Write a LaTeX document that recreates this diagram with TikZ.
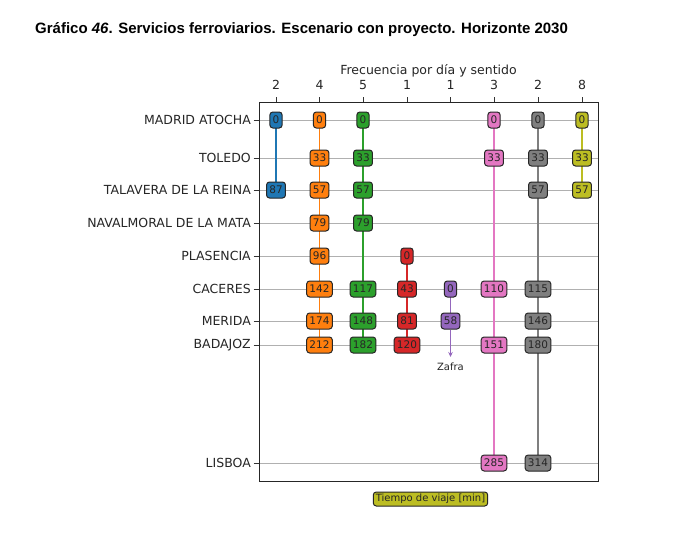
\documentclass[tikz,border=0pt]{standalone}
\usepackage{fontspec}
\setmainfont{DejaVu Sans}
\newfontfamily\titlefont{Liberation Sans}
\usetikzlibrary{arrows.meta}
\pgfdeclarelayer{background}
\pgfdeclarelayer{bottom}
\pgfsetlayers{bottom,background,main}
\definecolor{tblue}{HTML}{1F77B4}
\definecolor{torange}{HTML}{FF7F0E}
\definecolor{tgreen}{HTML}{2CA02C}
\definecolor{tred}{HTML}{D62728}
\definecolor{tpurple}{HTML}{9467BD}
\definecolor{tpink}{HTML}{E377C2}
\definecolor{tgray}{HTML}{7F7F7F}
\definecolor{tolive}{HTML}{BCBD22}
\definecolor{gridc}{HTML}{B0B0B0}
\tikzset{
  gridline/.style={draw=gridc, line width=1pt},
  tickmark/.style={draw=black!80, line width=1pt},
  lab/.style={font=\fontsize{12.5}{14}\selectfont, text=black!85, inner sep=0pt},
  tbox/.style={draw=black!85, fill=#1, rounded corners=3pt, line width=1pt,
    font=\fontsize{10.5}{12}\selectfont, text=black!85, inner xsep=2.8pt, inner ysep=0pt,
    minimum height=16pt},
  route/.style={draw=#1, line width=1.9pt},
}
\begin{document}
\begin{tikzpicture}[x=1pt,y=-1pt]
\useasboundingbox (0,0) rectangle (685,549);
\begin{pgfonlayer}{bottom}
\fill[white] (0,0) rectangle (685,549);
\end{pgfonlayer}
\node[anchor=west, inner sep=0pt, font=\titlefont\bfseries\fontsize{15}{18}\selectfont] (title) at (35,30)
  {Gráfico \textit{46}. Servicios ferroviarios. Escenario con proyecto. Horizonte 2030};
% rows
\foreach \n/\y/\t in {MA/120/MADRID ATOCHA, TO/158/TOLEDO, TA/190/TALAVERA DE LA REINA,
  NA/223/NAVALMORAL DE LA MATA, PL/256/PLASENCIA, CA/289/CACERES, ME/321/MERIDA,
  BA/345/BADAJOZ, LI/463/LISBOA}{
  \begin{pgfonlayer}{bottom}
  \draw[gridline] (259,\y) -- (598,\y);
  \end{pgfonlayer}
  \draw[tickmark] (253.5,\y) -- (259,\y);
  \node[lab, anchor=east] (lab-\n) at (251,\y) {\t};
}
% columns
\foreach \c/\x/\f in {1/276/2, 2/319.5/4, 3/363/5, 4/407/1, 5/450.5/1, 6/494/3, 7/538/2, 8/582/8}{
  \draw[tickmark] (\x,102) -- (\x,96.5);
  \node[lab] (freq-\c) at (\x,85) {\f};
}
\node[lab] (xtitle) at (428.5,71) {Frecuencia por día y sentido};
% station y
\def\yMA{120}\def\yTO{158}\def\yTA{190}\def\yNA{223}\def\yPL{256}\def\yCA{289}\def\yME{321}\def\yBA{345}\def\yLI{463}
% column 1 blue
\node[tbox=tblue] (c1-MA) at (276,\yMA) {0};
\node[tbox=tblue] (c1-TA) at (276,\yTA) {87};
% column 2 orange
\foreach \s/\v in {MA/0, TO/33, TA/57, NA/79, PL/96, CA/142, ME/174, BA/212}{
  \node[tbox=torange] (c2-\s) at (319.5,\csname y\s\endcsname) {\v};
}
% column 3 green
\foreach \s/\v in {MA/0, TO/33, TA/57, NA/79, CA/117, ME/148, BA/182}{
  \node[tbox=tgreen] (c3-\s) at (363,\csname y\s\endcsname) {\v};
}
% column 4 red
\foreach \s/\v in {PL/0, CA/43, ME/81, BA/120}{
  \node[tbox=tred] (c4-\s) at (407,\csname y\s\endcsname) {\v};
}
% column 5 purple
\foreach \s/\v in {CA/0, ME/58}{
  \node[tbox=tpurple] (c5-\s) at (450.5,\csname y\s\endcsname) {\v};
}
\coordinate (zafratip) at (450.5,357);
\node[font=\fontsize{10}{12}\selectfont, text=black!85, inner sep=0pt] (zafra) at (450.5,367) {Zafra};
% column 6 pink
\foreach \s/\v in {MA/0, TO/33, CA/110, BA/151, LI/285}{
  \node[tbox=tpink] (c6-\s) at (494,\csname y\s\endcsname) {\v};
}
% column 7 gray
\foreach \s/\v in {MA/0, TO/33, TA/57, CA/115, ME/146, BA/180, LI/314}{
  \node[tbox=tgray] (c7-\s) at (538,\csname y\s\endcsname) {\v};
}
% column 8 olive
\foreach \s/\v in {MA/0, TO/33, TA/57}{
  \node[tbox=tolive] (c8-\s) at (582,\csname y\s\endcsname) {\v};
}
\begin{pgfonlayer}{background}
\draw[route=tblue] (c1-MA.center) -- (c1-TA.center);
\draw[route=torange] (c2-MA.center) -- (c2-BA.center);
\draw[route=tgreen] (c3-MA.center) -- (c3-BA.center);
\draw[route=tred] (c4-PL.center) -- (c4-BA.center);
\draw[route=tpurple] (c5-CA.center) -- (c5-ME.center);
\draw[route=tpink] (c6-MA.center) -- (c6-LI.center);
\draw[route=tgray] (c7-MA.center) -- (c7-LI.center);
\draw[route=tolive] (c8-MA.center) -- (c8-TA.center);
\end{pgfonlayer}
\draw[draw=tpurple, line width=1.3pt, -{Stealth[length=5pt,width=4.5pt]}] (c5-ME.south) -- (zafratip);
% frame
\draw[black!85, line width=1pt] (259,102) rectangle (598,481);
% legend
\node[tbox=tolive, font=\fontsize{10}{12}\selectfont, inner xsep=2.5pt, minimum height=14pt] (legend) at (430.5,499) {Tiempo de viaje [min]};
\end{tikzpicture}
\end{document}
